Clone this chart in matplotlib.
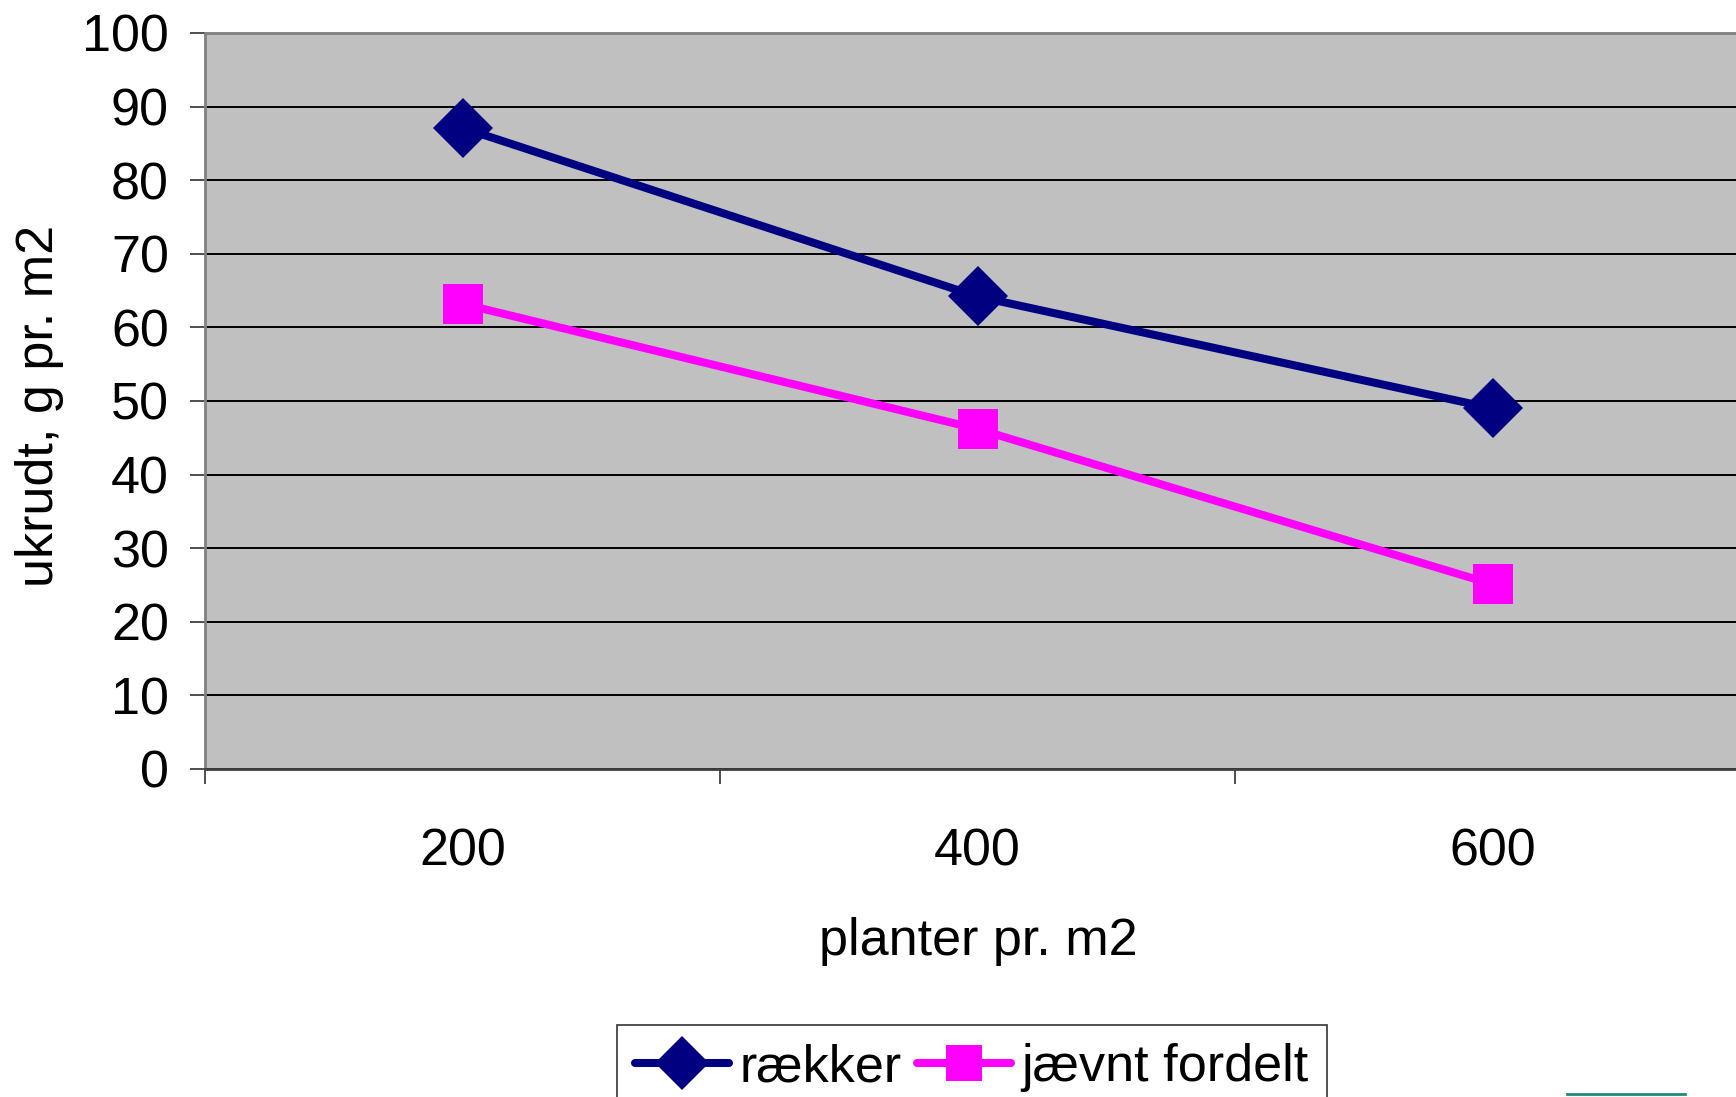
import matplotlib
matplotlib.use("Agg")
import matplotlib.pyplot as plt
from matplotlib.lines import Line2D

categories = ["200", "400", "600"]
raekker = [87.1, 64.2, 49.0]
jaevnt = [63.2, 46.2, 25.1]
yticks = [0, 10, 20, 30, 40, 50, 60, 70, 80, 90, 100]

plt.rcParams['font.family'] = ['Liberation Sans', 'DejaVu Sans']
FS = 37.5

W, H = 1736, 1097
fig = plt.figure(figsize=(W / 100, H / 100), dpi=100)
left, right, top, bottom = 205, 1750, 33, 769
ax = fig.add_axes([left / W, 1 - bottom / H, (right - left) / W, (bottom - top) / H])
ax.set_facecolor('#C0C0C0')

x = list(range(len(categories)))
ax.plot(x, raekker, color='#000080', lw=5.8, marker='D', markersize=31,
        markeredgewidth=0, label='rækker', zorder=3, solid_capstyle='round')
ax.plot(x, jaevnt, color='#FF00FF', lw=5.8, marker='s', markersize=29,
        markeredgewidth=0, label='jævnt fordelt', zorder=3, solid_capstyle='round')

ax.set_xlim(-0.5, len(categories) - 0.5)
ax.set_ylim(0, 100)
ax.set_yticks(yticks)
ax.set_yticklabels([str(v) for v in yticks])
ax.yaxis.grid(True, color='black', lw=1.4)
ax.set_axisbelow(True)

# x ticks at category boundaries, labels at centers
ax.set_xticks([i - 0.5 for i in range(len(categories) + 1)])
ax.set_xticklabels([])
ax.set_xticks(x, minor=True)
ax.set_xticklabels(categories, minor=True)
ax.tick_params(axis='x', which='major', direction='out', length=11, width=1.2, color='#303030')
ax.tick_params(axis='x', which='minor', length=0, pad=42, labelsize=FS)
ax.tick_params(axis='y', direction='out', length=11, width=1.2, color='#303030',
               pad=15, labelsize=FS)

for s in ['top', 'left']:
    ax.spines[s].set_color('#808080')
    ax.spines[s].set_linewidth(2)
ax.spines['right'].set_visible(False)
ax.spines['bottom'].set_color('#404040')
ax.spines['bottom'].set_linewidth(2)

ax.set_xlabel('planter pr. m2', fontsize=FS, va='center')
ax.xaxis.set_label_coords((978 - left) / (right - left), -(941 - bottom) / (bottom - top))
ax.set_ylabel('ukrudt, g pr. m2', fontsize=FS, va='center')
ax.yaxis.set_label_coords(-(left - 40) / (right - left), (bottom - 406) / (bottom - top))

leg = fig.legend(loc='upper left', bbox_to_anchor=(617 / W, 1 - 1025 / H), ncol=2,
                 fontsize=FS, frameon=True, fancybox=False, edgecolor='black',
                 handlelength=1.8, handletextpad=0.2, columnspacing=0.3,
                 borderpad=0.35, borderaxespad=0, markerscale=0.9)
leg.get_frame().set_linewidth(1.2)

fig.add_artist(Line2D([1567 / W, 1685 / W], [1 - 1094 / H, 1 - 1094 / H],
                      color='#1E8C78', lw=2, transform=fig.transFigure))

fig.savefig('out.png', dpi=100)
